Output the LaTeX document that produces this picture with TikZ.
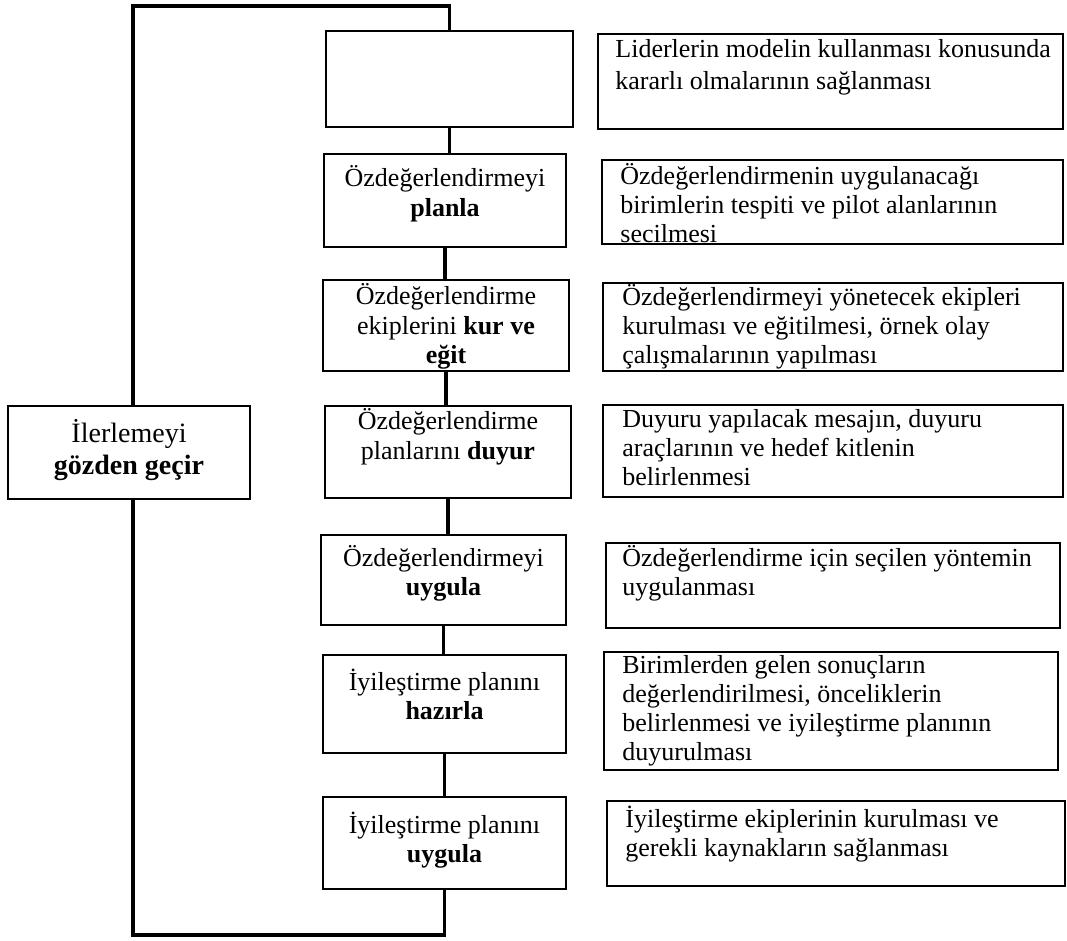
\documentclass[tikz,border=0pt]{standalone}
\usepackage{fontspec}
\setmainfont{Liberation Serif}
\begin{document}
\begin{tikzpicture}[x=0.5pt,y=-0.5pt,
  box/.style={draw, line width=0.9pt, inner sep=0pt},
  link/.style={line width=1.7pt},
  % multi-line texts are placed by the baseline of their last line
  ctext/.style={inner sep=0pt, align=center, anchor=base, font=\fontsize{13}{14.6}\selectfont},
  rtext/.style={inner sep=0pt, align=left, anchor=base west, font=\fontsize{13}{14.5}\selectfont}
]
\useasboundingbox (0,0) rectangle (1067,941);

% step boxes (middle column)
\node[box, minimum width=123.5pt, minimum height=48pt]   (b1) at (449.5,79)  {};
\node[box, minimum width=121pt,   minimum height=46.5pt] (b2) at (445,200.5) {};
\node[box, minimum width=123pt,   minimum height=45.5pt] (b3) at (446,325.5) {};
\node[box, minimum width=123pt,   minimum height=46pt]   (b4) at (448,452)   {};
\node[box, minimum width=122.5pt, minimum height=45pt]   (b5) at (443.5,580) {};
\node[box, minimum width=121.5pt, minimum height=49pt]   (b6) at (444.5,704) {};
\node[box, minimum width=121.5pt, minimum height=46pt]   (b7) at (444.5,843) {};

% review box (left)
\node[box, minimum width=121pt, minimum height=46.5pt] (lb) at (129,452.5) {};

% description boxes (right column)
\node[box, minimum width=232.5pt, minimum height=47.5pt] (r1) at (830.5,81.5) {};
\node[box, minimum width=230.5pt, minimum height=42pt]   (r2) at (832.5,202)  {};
\node[box, minimum width=230pt,   minimum height=44pt]   (r3) at (833,327)    {};
\node[box, minimum width=230pt,   minimum height=46pt]   (r4) at (833,451)    {};
\node[box, minimum width=227pt,   minimum height=42.5pt] (r5) at (833,585.5)  {};
\node[box, minimum width=227pt,   minimum height=59pt]   (r6) at (831,711)    {};
\node[box, minimum width=229pt,   minimum height=42.5pt] (r7) at (836,843.5)  {};

% step texts
\node[ctext] (t2) at (445,216.2)   {Özdeğerlendirmeyi\\\textbf{planla}};
\node[ctext] (t3) at (446,363.4)   {Özdeğerlendirme\\ekiplerini \textbf{kur ve}\\\textbf{eğit}};
\node[ctext] (t4) at (448,459.2)   {Özdeğerlendirme\\planlarını \textbf{duyur}};
\node[ctext] (t5) at (443.5,595.2) {Özdeğerlendirmeyi\\\textbf{uygula}};
\node[ctext] (t6) at (444.5,719.2) {İyileştirme planını\\\textbf{hazırla}};
\node[ctext] (t7) at (444.5,862.2) {İyileştirme planını\\\textbf{uygula}};
\node[ctext, font=\fontsize{14}{16}\selectfont] (tl) at (129,474) {İlerlemeyi\\\textbf{gözden geçir}};

% description texts
\node[rtext, font=\fontsize{13}{16}\selectfont] (s1) at (615,90)
  {Liderlerin modelin kullanması konusunda\\kararlı olmalarının sağlanması};
\node[rtext] (s2) at (620,243)
  {Özdeğerlendirmenin uygulanacağı\\birimlerin tespiti ve pilot alanlarının\\secilmesi};
\node[rtext] (s3) at (622,364)
  {Özdeğerlendirmeyi yönetecek ekipleri\\kurulması ve eğitilmesi, örnek olay\\çalışmalarının yapılması};
\node[rtext] (s4) at (622,486)
  {Duyuru yapılacak mesajın, duyuru\\araçlarının ve hedef kitlenin\\belirlenmesi};
\node[rtext] (s5) at (622,596)
  {Özdeğerlendirme için seçilen yöntemin\\uygulanması};
\node[rtext] (s6) at (622,760)
  {Birimlerden gelen sonuçların\\değerlendirilmesi, önceliklerin\\belirlenmesi ve iyileştirme planının\\duyurulması};
\node[rtext] (s7) at (625,856)
  {İyileştirme ekiplerinin kurulması ve\\gerekli kaynakların sağlanması};

% chain of steps
\draw[link] (b1.south) -- (b1.south |- b2.north);
\draw[link] (b2.south) -- (b2.south |- b3.north);
\draw[link] (b3.south) -- (b3.south |- b4.north);
\draw[link] (b4.south) -- (b4.south |- b5.north);
\draw[link] (b5.south) -- (b5.south |- b6.north);
\draw[link] (b6.south) -- (b6.south |- b7.north);

% feedback loop through the review box
\coordinate (tl0) at (133,6);
\coordinate (bl0) at (133,935);
\draw[link] (b1.north) |- (tl0) -- (tl0 |- lb.north);
\draw[link] (bl0 |- lb.south) -- (bl0) -| (b7.south);
\end{tikzpicture}
\end{document}
